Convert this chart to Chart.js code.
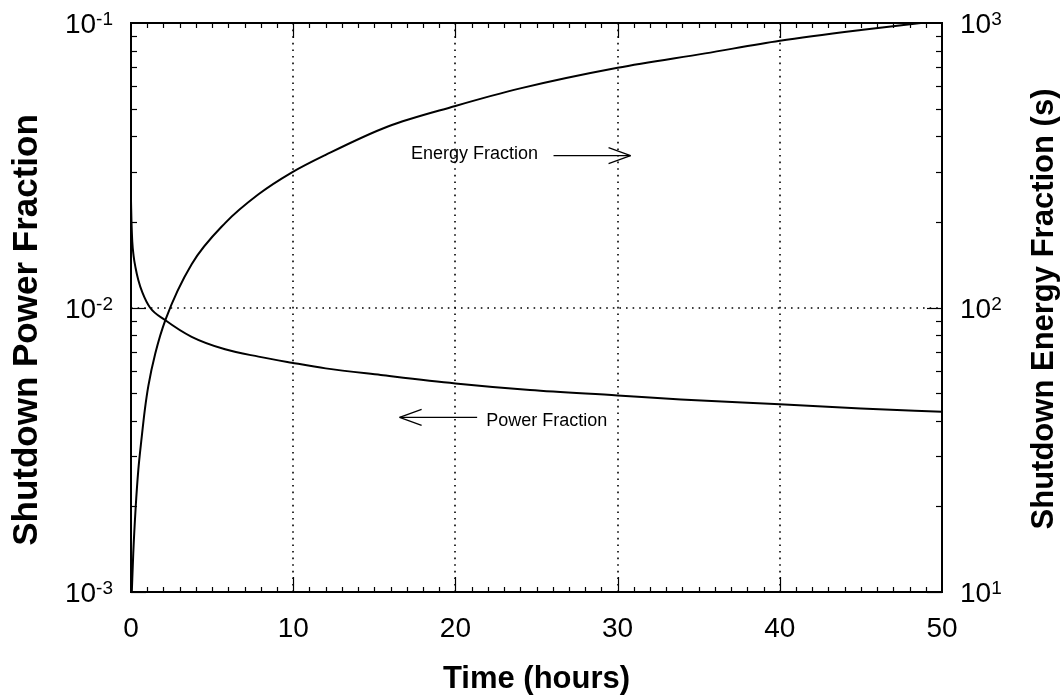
<!DOCTYPE html>
<html>
<head>
<meta charset="utf-8">
<script src="https://cdn.jsdelivr.net/npm/chart.js@4.4.1/dist/chart.umd.min.js"></script>
<style>
  html, body { margin: 0; padding: 0; background: #fff; }
  #wrap { width: 1063px; height: 700px; position: relative; }
</style>
</head>
<body>
<div id="wrap"><canvas id="decayChart"></canvas></div>
<script>
// --- data (time in hours) ---
const powerTime = [0, 0.03, 0.08, 0.16, 0.28, 0.45, 0.7, 1.17, 2.1, 3.74, 5.8, 7.86, 9.9, 12, 15.4, 20, 24.6, 30, 33.9, 40, 45, 50];
const powerFraction = [0.0237, 0.0200, 0.0170, 0.0152, 0.0138, 0.0125, 0.0113, 0.0100, 0.00904, 0.00789, 0.00713, 0.00672, 0.0064, 0.00611, 0.00579, 0.00541, 0.00513, 0.00491, 0.00475, 0.00457, 0.00442, 0.00430];

const energyTime = [0.05, 0.14, 0.29, 0.45, 0.66, 0.86, 1.07, 1.5, 2.14, 3.74, 5.8, 7.86, 9.9, 12, 15.8, 20, 24, 30, 35.4, 40, 45, 48.7, 50];
const energyFraction = [10, 13.7, 19.9, 26.8, 35, 44, 53, 69, 91, 142, 198, 250, 298, 344, 432, 511, 589, 696, 782, 866, 945, 1000, 1020];

// --- tick labels ---
const timeTicks = [0, 10, 20, 30, 40, 50];
const powerTickExp = [-3, -2, -1];
const energyTickExp = [1, 2, 3];

const FONT = '"Liberation Sans", Arial, Helvetica, sans-serif';

function line(ctx, x1, y1, x2, y2) {
  ctx.beginPath(); ctx.moveTo(x1, y1); ctx.lineTo(x2, y2); ctx.stroke();
}

function arrow(ctx, x1, y, x2) {
  // shaft from x1 to x2, open head at x2
  const dir = x2 > x1 ? -1 : 1;
  line(ctx, x1, y, x2, y);
  line(ctx, x2, y, x2 + dir * 22, y - 8);
  line(ctx, x2, y, x2 + dir * 22, y + 8);
}

function powLabel(ctx, exp, xPos, yPos, align) {
  const base = '10', sup = String(exp);
  ctx.font = '28px ' + FONT;
  const wb = ctx.measureText(base).width;
  ctx.font = '19px ' + FONT;
  const ws = ctx.measureText(sup).width;
  const x0 = align === 'right' ? xPos - wb - ws : xPos;
  ctx.textAlign = 'left';
  ctx.textBaseline = 'alphabetic';
  ctx.font = '28px ' + FONT;
  ctx.fillText(base, x0, yPos + 10);
  ctx.font = '19px ' + FONT;
  ctx.fillText(sup, x0 + wb, yPos + 2);
}

const decorPlugin = {
  id: 'decor',
  beforeDatasetsDraw(chart) {
    const { ctx, chartArea: a, scales: { x, y } } = chart;
    ctx.save();
    ctx.strokeStyle = '#000';
    ctx.lineWidth = 1.6;
    ctx.setLineDash([1.6, 5]);
    timeTicks.slice(1, -1).forEach(t => {
      const px = Math.round(x.getPixelForValue(t));
      line(ctx, px, a.top, px, a.bottom);
    });
    powerTickExp.slice(1, -1).forEach(e => {
      const py = Math.round(y.getPixelForValue(Math.pow(10, e)));
      line(ctx, a.left, py, a.right, py);
    });
    ctx.restore();
  },
  afterDatasetsDraw(chart) {
    const { ctx, chartArea: a, scales: { x, y, y2 } } = chart;
    ctx.save();
    ctx.strokeStyle = '#000';
    ctx.fillStyle = '#000';

    // ticks on all four sides, pointing inward
    ctx.lineWidth = 1.2;
    for (let t = 1; t < 50; t++) {
      const px = Math.round(x.getPixelForValue(t)) + 0.5;
      const len = t % 10 === 0 ? 15 : 5;
      line(ctx, px, a.bottom, px, a.bottom - len);
      line(ctx, px, a.top, px, a.top + len);
    }
    powerTickExp.slice(0, -1).forEach(e => {
      for (let m = 1; m < 10; m++) {
        const py = Math.round(y.getPixelForValue(m * Math.pow(10, e))) + 0.5;
        const len = m === 1 ? 15 : 6;
        line(ctx, a.left, py, a.left + len, py);
      }
    });
    energyTickExp.slice(0, -1).forEach(e => {
      for (let m = 1; m < 10; m++) {
        const py = Math.round(y2.getPixelForValue(m * Math.pow(10, e))) + 0.5;
        const len = m === 1 ? 15 : 6;
        line(ctx, a.right, py, a.right - len, py);
      }
    });

    // frame
    ctx.lineWidth = 2;
    ctx.strokeRect(a.left, a.top, a.right - a.left, a.bottom - a.top);

    // tick labels
    ctx.font = '28px ' + FONT;
    ctx.textAlign = 'center';
    ctx.textBaseline = 'alphabetic';
    timeTicks.forEach(t => ctx.fillText(String(t), x.getPixelForValue(t), a.bottom + 45));
    powerTickExp.forEach(e => powLabel(ctx, e, a.left - 18, y.getPixelForValue(Math.pow(10, e)), 'right'));
    energyTickExp.forEach(e => powLabel(ctx, e, a.right + 18, y2.getPixelForValue(Math.pow(10, e)), 'left'));

    // axis titles
    ctx.font = 'bold 31px ' + FONT;
    ctx.textAlign = 'center';
    ctx.fillText('Time (hours)', (a.left + a.right) / 2, 688);

    ctx.save();
    ctx.font = 'bold 35px ' + FONT;
    ctx.translate(37, 330);
    ctx.rotate(-Math.PI / 2);
    ctx.fillText('Shutdown Power Fraction', 0, 0);
    ctx.restore();

    ctx.save();
    ctx.font = 'bold 31px ' + FONT;
    ctx.translate(1053, 309);
    ctx.rotate(-Math.PI / 2);
    ctx.fillText('Shutdown Energy Fraction (s)', 0, 0);
    ctx.restore();

    // in-plot annotations (positioned in data units of the left axis)
    ctx.font = '18px ' + FONT;
    ctx.lineWidth = 1.2;
    ctx.textAlign = 'right';
    ctx.fillText('Energy Fraction', x.getPixelForValue(25.1), y.getPixelForValue(0.0333));
    arrow(ctx, x.getPixelForValue(26.05), y.getPixelForValue(0.0342), x.getPixelForValue(30.8));
    ctx.textAlign = 'left';
    ctx.fillText('Power Fraction', x.getPixelForValue(21.9), y.getPixelForValue(0.00383));
    arrow(ctx, x.getPixelForValue(21.34), y.getPixelForValue(0.00411), x.getPixelForValue(16.56));

    ctx.restore();
  }
};

const hiddenAxis = {
  ticks: { display: false },
  grid: { display: false },
  border: { display: false },
  title: { display: false }
};

new Chart(document.getElementById('decayChart'), {
  type: 'line',
  data: {
    datasets: [
      {
        label: 'Power Fraction',
        data: powerTime.map((t, i) => ({ x: t, y: powerFraction[i] })),
        yAxisID: 'y',
        borderColor: '#000',
        borderWidth: 2,
        pointRadius: 0,
        cubicInterpolationMode: 'monotone',
        fill: false
      },
      {
        label: 'Energy Fraction',
        data: energyTime.map((t, i) => ({ x: t, y: energyFraction[i] })),
        yAxisID: 'y2',
        borderColor: '#000',
        borderWidth: 2,
        pointRadius: 0,
        cubicInterpolationMode: 'monotone',
        fill: false
      }
    ]
  },
  options: {
    responsive: true,
    maintainAspectRatio: false,
    animation: false,
    layout: { padding: { top: 23, left: 0, right: 0, bottom: 0 } },
    plugins: { legend: { display: false }, tooltip: { enabled: false } },
    scales: {
      x: { ...hiddenAxis, type: 'linear', min: 0, max: 50, afterFit: s => { s.height = 108; } },
      y: { ...hiddenAxis, type: 'logarithmic', position: 'left', min: 0.001, max: 0.1, afterFit: s => { s.width = 131; } },
      y2: { ...hiddenAxis, type: 'logarithmic', position: 'right', min: 10, max: 1000, afterFit: s => { s.width = 121; } }
    }
  },
  plugins: [decorPlugin]
});
</script>
</body>
</html>
